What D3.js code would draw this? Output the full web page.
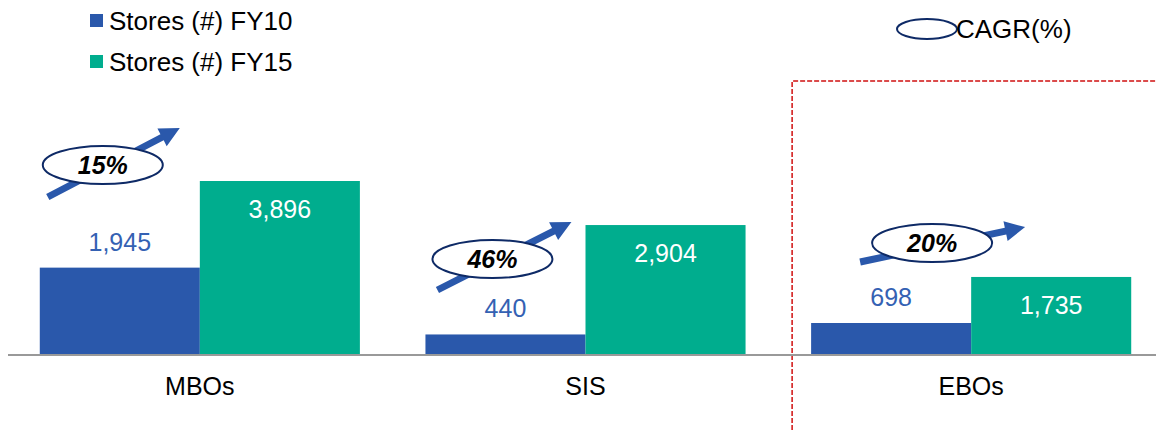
<!DOCTYPE html>
<html>
<head>
<meta charset="utf-8">
<script src="https://cdn.jsdelivr.net/npm/d3@7"></script>
<style>
  body { margin: 0; background: #fff; }
  svg { display: block; font-family: "Liberation Sans", Arial, sans-serif; }
</style>
</head>
<body>
<svg id="chart" width="1156" height="430"></svg>
<script>
// data
const categories = ["MBOs", "SIS", "EBOs"];
const storesFY10 = [1945, 440, 698];
const storesFY15 = [3896, 2904, 1735];
const cagr = ["15%", "46%", "20%"];
const seriesNames = ["Stores (#) FY10", "Stores (#) FY15"];

const colors = ["#2a58ab", "#00ad8e"];
const labelColors = ["#3461b3", "#ffffff"];
const navy = "#0e2a66";

const width = 1156, height = 430;
const baseY = 354;

const svg = d3.select("#chart");

// scales
const x = d3.scaleBand()
    .domain(categories)
    .range([7, 1164])
    .paddingInner(0.17)
    .paddingOuter(0.085);

const xs = d3.scaleBand()
    .domain([0, 1])
    .range([0, x.bandwidth()]);

const y = d3.scaleLinear()
    .domain([0, 3896])
    .range([baseY, 181]);

const rows = categories.map((c, i) => ({cat: c, values: [storesFY10[i], storesFY15[i]], cagr: cagr[i]}));

// red dashed frame around EBOs
const frameX = x("EBOs") - 19;
svg.append("path")
    .attr("d", `M${frameX},${height} V81 H${width}`)
    .attr("fill", "none")
    .attr("stroke", "#d01010")
    .attr("stroke-width", 1.5)
    .attr("stroke-dasharray", "5,2");

// bars
const groups = svg.selectAll(".grp")
    .data(rows)
    .enter()
    .append("g")
    .attr("class", "grp")
    .attr("transform", d => `translate(${x(d.cat)},0)`);

groups.selectAll("rect")
    .data(d => d.values.map((v, k) => ({v, k})))
    .enter()
    .append("rect")
    .attr("x", d => xs(d.k))
    .attr("width", xs.bandwidth())
    .attr("y", d => y(d.v))
    .attr("height", d => baseY - y(d.v))
    .attr("fill", d => colors[d.k]);

// value labels: FY10 above the bar, FY15 inside
groups.selectAll("text.val")
    .data(d => d.values.map((v, k) => ({v, k})))
    .enter()
    .append("text")
    .attr("class", "val")
    .attr("x", d => xs(d.k) + xs.bandwidth() / 2)
    .attr("y", d => d.k === 0 ? y(d.v) - 17 : y(d.v) + 37)
    .attr("text-anchor", "middle")
    .style("font-size", "25px")
    .style("fill", d => labelColors[d.k])
    .text(d => d3.format(",")(d.v));

// axis line
svg.append("line")
    .attr("x1", 8).attr("x2", width)
    .attr("y1", baseY + 1).attr("y2", baseY + 1)
    .attr("stroke", "#999")
    .attr("stroke-width", 2);

// category labels
svg.selectAll("text.cat")
    .data(categories)
    .enter()
    .append("text")
    .attr("class", "cat")
    .attr("x", d => x(d) + x.bandwidth() / 2)
    .attr("y", 395)
    .attr("text-anchor", "middle")
    .style("font-size", "25px")
    .style("fill", "#000")
    .text(d => d);

// CAGR arrows + ellipses (annotation layout, relative to each group)
const annot = [
    {x1: 8, y1: 197, x2: 140, y2: 128, cx: 63, cy: 165},
    {x1: 12, y1: 290, x2: 146, y2: 222, cx: 67, cy: 259},
    {x1: 49, y1: 262, x2: 214, y2: 227, cx: 121, cy: 243}
];

groups.each(function (d, i) {
    const g = d3.select(this);
    const a = annot[i];
    const ang = Math.atan2(a.y2 - a.y1, a.x2 - a.x1);
    const len = Math.hypot(a.x2 - a.x1, a.y2 - a.y1);
    const headL = 20, headW = 10, shaft = 3.5;
    const arrow = g.append("g")
        .attr("transform", `translate(${a.x1},${a.y1}) rotate(${ang * 180 / Math.PI})`);
    arrow.append("path")
        .attr("d", `M0,${-shaft} L${len - headL},${-shaft} L${len - headL},${-headW} L${len},0 L${len - headL},${headW} L${len - headL},${shaft} L0,${shaft} Z`)
        .attr("fill", "#2a58ab");

    g.append("ellipse")
        .attr("cx", a.cx).attr("cy", a.cy)
        .attr("rx", 60).attr("ry", 19)
        .attr("fill", "#fff")
        .attr("stroke", navy)
        .attr("stroke-width", 2);

    g.append("text")
        .attr("x", a.cx).attr("y", a.cy + 9)
        .attr("text-anchor", "middle")
        .style("font-size", "25px")
        .style("font-weight", "bold")
        .style("font-style", "italic")
        .style("fill", "#000")
        .text(d.cagr);
});

// legend
const legend = svg.append("g")
    .selectAll(".legend")
    .data(seriesNames)
    .enter()
    .append("g")
    .attr("class", "legend")
    .attr("transform", (d, i) => `translate(90,${14 + i * 41})`);

legend.append("rect")
    .attr("width", 13).attr("height", 13)
    .attr("fill", (d, i) => colors[i]);

legend.append("text")
    .attr("x", 19)
    .attr("y", 16)
    .style("font-size", "26px")
    .text(d => d);

// CAGR legend
svg.append("ellipse")
    .attr("cx", 927).attr("cy", 29)
    .attr("rx", 30).attr("ry", 10)
    .attr("fill", "none")
    .attr("stroke", navy)
    .attr("stroke-width", 2);

svg.append("text")
    .attr("x", 956).attr("y", 38)
    .style("font-size", "26px")
    .text("CAGR(%)");
</script>
</body>
</html>
